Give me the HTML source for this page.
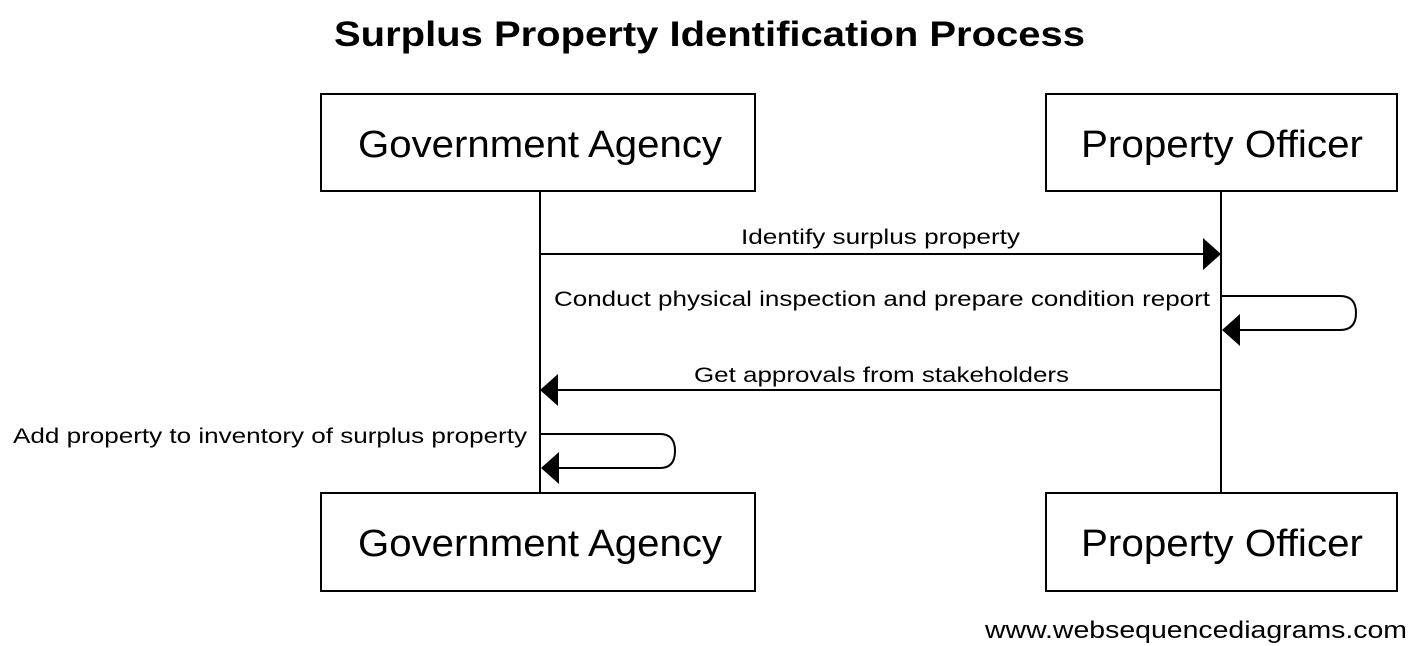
<!DOCTYPE html>
<html><head><meta charset="utf-8"><style>
html,body{margin:0;padding:0;background:#fff;}
svg{display:block;}
text{font-family:"Liberation Sans",sans-serif;fill:#000;}
</style></head><body>
<svg width="1424" height="646" viewBox="0 0 1424 646" xmlns="http://www.w3.org/2000/svg">
<text x="334" y="46" font-size="35" font-weight="bold" textLength="751" lengthAdjust="spacingAndGlyphs">Surplus Property Identification Process</text>
<g fill="#fff" stroke="#000" stroke-width="2">
<rect x="321" y="94" width="434" height="97"/>
<rect x="1046" y="94" width="351" height="97"/>
<rect x="321" y="493" width="434" height="98"/>
<rect x="1046" y="493" width="351" height="98"/>
</g>
<g font-size="38">
<text x="358" y="157" textLength="364" lengthAdjust="spacingAndGlyphs">Government Agency</text>
<text x="1081" y="157" textLength="282" lengthAdjust="spacingAndGlyphs">Property Officer</text>
<text x="358" y="556" textLength="364" lengthAdjust="spacingAndGlyphs">Government Agency</text>
<text x="1081" y="556" textLength="282" lengthAdjust="spacingAndGlyphs">Property Officer</text>
</g>
<g stroke="#000" stroke-width="2" fill="none">
<line x1="540" y1="191" x2="540" y2="493"/>
<line x1="1221" y1="191" x2="1221" y2="493"/>
<line x1="540" y1="254" x2="1205" y2="254"/>
<path d="M1221 296 H1340 Q1356 296 1356 313 Q1356 330 1340 330 H1238"/>
<line x1="1221" y1="390" x2="556" y2="390"/>
<path d="M540 434 H660 Q675 434 675 451 Q675 468 660 468 H556"/>
</g>
<g fill="#000">
<polygon points="1221,254 1203,238 1203,270"/>
<polygon points="1222,330 1240,314 1240,346"/>
<polygon points="540,390 558,374 558,406"/>
<polygon points="541,468 559,452 559,484"/>
</g>
<g font-size="21">
<text x="741" y="244" textLength="279" lengthAdjust="spacingAndGlyphs">Identify surplus property</text>
<text x="554" y="306" textLength="656" lengthAdjust="spacingAndGlyphs">Conduct physical inspection and prepare condition report</text>
<text x="694" y="382" textLength="375" lengthAdjust="spacingAndGlyphs">Get approvals from stakeholders</text>
<text x="13" y="443" textLength="514" lengthAdjust="spacingAndGlyphs">Add property to inventory of surplus property</text>
</g>
<text x="985" y="638" font-size="24" textLength="422" lengthAdjust="spacingAndGlyphs">www.websequencediagrams.com</text>
</svg>
</body></html>
